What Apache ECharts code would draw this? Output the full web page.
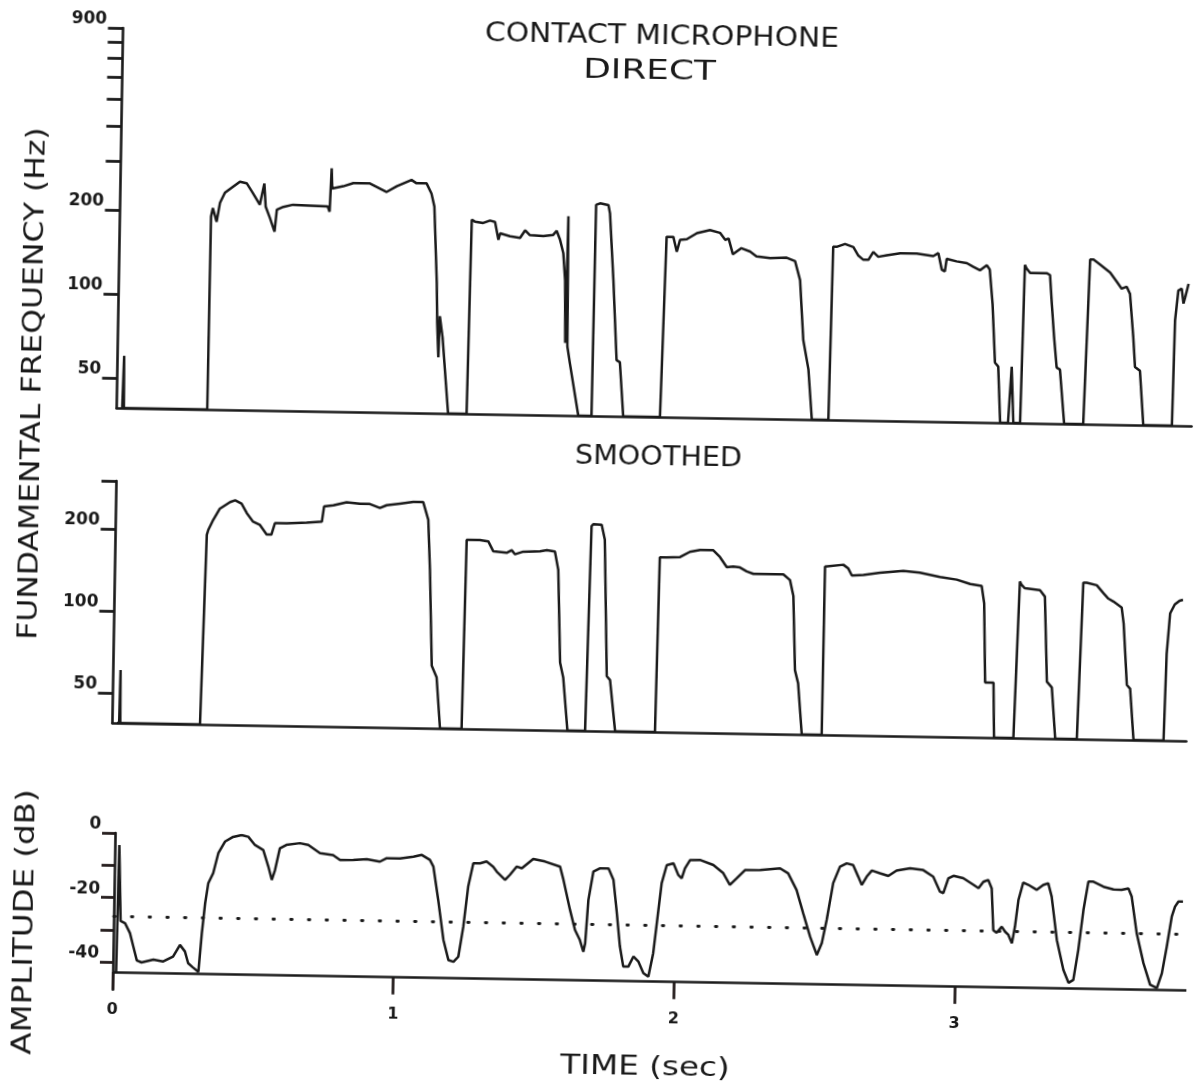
<!DOCTYPE html>
<html>
<head>
<meta charset="utf-8">
<title>Contact microphone – direct / smoothed / amplitude</title>
<script src="https://cdn.jsdelivr.net/npm/echarts@6/dist/echarts.min.js"></script>
<style>
  html, body { margin: 0; padding: 0; background: #fff; overflow: hidden; }
  /* the scanned original sits about one degree off level */
  #chart { width: 1194px; height: 1086px; transform: rotate(0.96deg); }
</style>
</head>
<body>
<div id="chart"></div>
<script>
// ---- data (time in sec) ----
const directTime = [
  0, 0.002, 0.004, 0.006,
  0.303, 0.305, 0.311, 0.325, 0.336, 0.353, 0.381, 0.406, 0.430, 0.452,
  0.478, 0.493, 0.499, 0.515, 0.532, 0.539, 0.562, 0.596, 0.656, 0.720,
  0.727, 0.732, 0.735, 0.774, 0.810, 0.869, 0.929, 0.965, 1.017, 1.035,
  1.071, 1.089, 1.100, 1.113, 1.117, 1.123, 1.126, 1.137, 1.161,
  1.227, 1.234, 1.245, 1.275, 1.299, 1.317, 1.330, 1.336, 1.371, 1.407,
  1.425, 1.442, 1.490, 1.525, 1.537, 1.549, 1.562, 1.570, 1.574, 1.578,
  1.582, 1.592, 1.625,
  1.672, 1.676, 1.690, 1.720, 1.726, 1.742, 1.758, 1.770, 1.785,
  1.916, 1.929, 1.953, 1.966, 1.977, 2.001, 2.037, 2.083, 2.119, 2.138,
  2.150, 2.166, 2.196, 2.227, 2.250, 2.299, 2.358, 2.388, 2.407, 2.422,
  2.442, 2.457,
  2.516, 2.523, 2.535, 2.565, 2.595, 2.613, 2.631, 2.649, 2.666, 2.684,
  2.714, 2.762, 2.821, 2.880, 2.898, 2.911, 2.922, 2.928, 2.963, 3.000,
  3.022, 3.047, 3.071, 3.082, 3.094, 3.106, 3.118, 3.128,
  3.156, 3.166, 3.175,
  3.199, 3.207, 3.213, 3.226, 3.285, 3.297, 3.305, 3.315, 3.326, 3.338, 3.356,
  3.424, 3.439, 3.451, 3.475, 3.511, 3.535, 3.553, 3.571, 3.583, 3.597, 3.605, 3.623, 3.638,
  3.740, 3.745, 3.755, 3.767, 3.774, 3.780, 3.791
];
const directHz = [
  39, 39, 60, 39,
  39, 192, 206, 184, 215, 234, 246, 257, 254, 235,
  213, 254, 210, 191, 171, 205, 210, 214, 213, 212,
  203, 291, 246, 251, 258, 258, 241, 253, 267, 260,
  260, 239, 215, 115, 82, 62, 87, 73, 39,
  39, 194, 191, 189, 193, 191, 165, 174, 170, 168,
  179, 172, 171, 173, 179, 167, 149, 119, 71, 202,
  69, 60, 39,
  39, 223, 226, 223, 208, 120, 62, 61, 39,
  39, 173, 173, 153, 169, 170, 179, 184, 180, 170,
  172, 151, 159, 155, 149, 147, 148, 144, 123, 75,
  59, 39,
  39, 163, 163, 167, 163, 152, 147, 147, 157, 151,
  153, 156, 156, 153, 157, 137, 135, 150, 147, 145,
  141, 137, 143, 138, 104, 64, 62, 39,
  39, 62, 39,
  39, 144, 140, 135, 135, 133, 105, 80, 62, 61, 39,
  39, 152, 152, 146, 137, 127, 120, 122, 115, 81, 63, 61, 39,
  39, 93, 119, 121, 107, 113, 126
];

const smoothTime = [
  0, 0.008, 0.010, 0.012,
  0.296, 0.309, 0.314, 0.331, 0.354, 0.390, 0.408, 0.431, 0.450, 0.473,
  0.498, 0.522, 0.539, 0.551, 0.593, 0.664, 0.718, 0.725, 0.758, 0.805,
  0.853, 0.888, 0.924, 0.948, 0.995, 1.042, 1.078, 1.097, 1.106, 1.118,
  1.136, 1.151,
  1.228, 1.235, 1.282, 1.312, 1.330, 1.378, 1.396, 1.408, 1.437, 1.497,
  1.521, 1.550, 1.563, 1.575, 1.587, 1.605,
  1.668, 1.679, 1.685, 1.715, 1.727, 1.742, 1.754, 1.775,
  1.917, 1.924, 1.948, 1.996, 2.031, 2.067, 2.114, 2.138, 2.163, 2.186,
  2.210, 2.234, 2.258, 2.305, 2.365, 2.389, 2.402, 2.412, 2.424, 2.440,
  2.511, 2.513, 2.519, 2.578, 2.596, 2.609, 2.650, 2.709, 2.792, 2.851,
  2.923, 2.983, 3.031, 3.072, 3.082, 3.090, 3.120, 3.125,
  3.194, 3.208, 3.214, 3.226, 3.280, 3.298, 3.310, 3.328, 3.343,
  3.420, 3.434, 3.446, 3.482, 3.506, 3.524, 3.542, 3.572, 3.580, 3.595, 3.607, 3.622,
  3.729, 3.735, 3.745, 3.761, 3.778, 3.790
];
const smoothHz = [
  39, 39, 61, 39,
  39, 193, 201, 219, 241, 255, 259, 252, 233, 217,
  211, 195, 195, 215, 215, 217, 219, 249, 252, 259,
  256, 256, 248, 254, 258, 262, 262, 226, 148, 66,
  60, 39,
  39, 192, 192, 190, 175, 173, 177, 171, 175, 176,
  178, 176, 151, 69, 61, 39,
  39, 219, 223, 222, 196, 62, 60, 39,
  39, 170, 170, 171, 179, 182, 182, 172, 158, 159,
  158, 153, 150, 150, 150, 143, 125, 67, 60, 39,
  39, 161, 163, 164, 159, 150, 151, 154, 157, 155,
  150, 147, 142, 140, 121, 62, 62, 39,
  39, 146, 142, 138, 136, 129, 63, 60, 39,
  39, 146, 146, 143, 134, 128, 125, 119, 104, 62, 60, 39,
  39, 81, 114, 123, 127, 128
];

const ampTime = [
  0.012, 0.016, 0.025, 0.041, 0.059, 0.072, 0.085, 0.102, 0.144, 0.179,
  0.214, 0.238, 0.256, 0.268, 0.284, 0.305, 0.315, 0.325, 0.335, 0.352,
  0.369, 0.392, 0.421, 0.451, 0.475, 0.499, 0.529, 0.548, 0.561, 0.572,
  0.588, 0.611, 0.659, 0.689, 0.731, 0.778, 0.803, 0.850, 0.898, 0.945,
  0.969, 1.016, 1.064, 1.094, 1.123, 1.136, 1.155, 1.176, 1.195, 1.213,
  1.230, 1.246, 1.261, 1.278, 1.302, 1.325, 1.349, 1.362, 1.392, 1.409,
  1.433, 1.451, 1.491, 1.533, 1.587, 1.600, 1.625, 1.644, 1.662, 1.675,
  1.681, 1.690, 1.706, 1.730, 1.760, 1.778, 1.791, 1.805, 1.818, 1.836,
  1.854, 1.872, 1.890, 1.908, 1.924, 1.940, 1.950, 1.967, 1.991, 2.009,
  2.021, 2.032, 2.050, 2.085, 2.133, 2.169, 2.193, 2.217, 2.246, 2.300,
  2.371, 2.400, 2.431, 2.456, 2.482, 2.507, 2.524, 2.540, 2.561, 2.584,
  2.608, 2.631, 2.650, 2.663, 2.680, 2.698, 2.727, 2.757, 2.786, 2.834,
  2.881, 2.917, 2.942, 2.954, 2.971, 2.989, 3.024, 3.061, 3.079, 3.096,
  3.113, 3.126, 3.134, 3.146, 3.164, 3.176, 3.188, 3.201, 3.211, 3.222,
  3.238, 3.256, 3.286, 3.309, 3.327, 3.340, 3.361, 3.386, 3.405, 3.422,
  3.438, 3.454, 3.470, 3.488, 3.524, 3.560, 3.589, 3.613, 3.625, 3.645,
  3.671, 3.696, 3.720, 3.737, 3.753, 3.769, 3.780, 3.792, 3.808
];
const ampDb = [
  -43, -3.7, -27.2, -27.9, -30.9, -35.1, -39.3, -39.9, -39.0, -39.5,
  -37.9, -34.3, -36.3, -39.9, -41.1, -42.5, -30.6, -21.3, -15.1, -11.9,
  -5.7, -2.1, -0.6, 0, -0.5, -3.0, -4.5, -9.6, -13.7, -10.6,
  -3.9, -2.8, -2.2, -2.7, -5.2, -5.7, -7.2, -7.1, -6.8, -7.5,
  -6.4, -6.4, -5.8, -5.2, -6.7, -8.8, -19.0, -31.4, -37.6, -38.1,
  -36.5, -27.2, -14.8, -7.5, -7.5, -6.9, -8.5, -10.0, -12.5, -10.9,
  -8.3, -8.8, -5.9, -6.6, -8.1, -12.2, -21.4, -27.6, -30.7, -34.3,
  -31.7, -18.3, -9.5, -8.4, -8.4, -11.9, -21.3, -32.5, -38.7, -38.7,
  -35.5, -37.1, -40.6, -41.7, -34.4, -21.0, -12.7, -7.1, -6.5, -10.1,
  -11.1, -8.0, -5.4, -5.3, -6.8, -9.3, -12.9, -10.8, -8.2, -8.1,
  -7.5, -9.0, -14.1, -21.3, -28.5, -34.1, -30.4, -23.2, -11.8, -6.7,
  -5.6, -6.1, -9.7, -12.2, -9.6, -7.7, -8.5, -9.3, -7.6, -6.8,
  -7.3, -9.3, -13.9, -14.3, -9.7, -8.9, -9.6, -11.6, -12.6, -10.6,
  -10.0, -12.6, -25.5, -26.3, -24.4, -25.9, -26.9, -29.5, -24.3, -16.0,
  -10.6, -11.3, -12.8, -11.3, -10.7, -14.8, -28.2, -37.4, -41.4, -40.5,
  -31.2, -18.8, -10.0, -10.0, -11.5, -12.3, -12.4, -11.9, -14.4, -25.7,
  -35.0, -41.6, -42.6, -38.0, -29.7, -20.4, -17.3, -15.7, -15.7
];

// axis ticks / labels
const directTicks = [50, 100, 200, 300, 400, 500, 600, 700, 800, 900];
const directLabels = [50, 100, 200, 900];
const smoothTicks = [50, 100, 200, 300];
const smoothLabels = [50, 100, 200];
const ampTicks = [0, -10, -20, -30, -40];
const ampLabels = [0, -20, -40];
const timeTicks = [0, 1, 2, 3];
const thresholdDb = -25.7;
const floorDb = -43;

// ---- chart ----
const INK = '#1a1a1a';
const TICK_INK = '#241c1c'; // amplitude panel ticks would not show in plain INK
const FONT = 'DejaVu Sans';
const lg = v => Math.log10(v);
const zip = (ts, vs) => ts.map((t, i) => [t, vs[i]]);

const lineAxis = () => ({ onZero: false, lineStyle: { color: INK, width: 2.6 } });
const tickLine = color => ({ color: color || INK, width: 2.8 });
const tickFont = () => ({ color: INK, fontFamily: FONT, fontSize: 17, fontWeight: 'bold' });
const off = () => ({ show: false });

function hiddenX(gridIndex, min) {
  return {
    gridIndex, type: 'value', min, max: 3.81,
    axisLine: lineAxis(), axisTick: off(), axisLabel: off(), splitLine: off()
  };
}

// axis that carries the data: line only
function dataY(gridIndex, type, min, max) {
  return {
    gridIndex, type, position: 'left', min, max,
    axisLine: lineAxis(), axisTick: off(), axisLabel: off(), splitLine: off()
  };
}

// companion axis on the same side: ticks and labels only
function tickY(gridIndex, min, max, ticks, labels, len, fmt, color) {
  return {
    gridIndex, type: 'value', position: 'left', min, max,
    axisLine: { show: false, onZero: false },
    axisTick: { show: true, length: len, customValues: ticks, lineStyle: tickLine(color) },
    axisLabel: Object.assign({
      show: true, customValues: labels, margin: len + 1, verticalAlign: 'bottom', formatter: fmt
    }, tickFont()),
    splitLine: off()
  };
}

const fromLog = v => String(Math.round(Math.pow(10, v)));
const plain = v => String(v);

const series = (x, y, data) => ({
  type: 'line', xAxisIndex: x, yAxisIndex: y, data,
  showSymbol: false, silent: true, animation: false,
  lineStyle: { color: INK, width: 2.5 }
});

function label(text, x, y, scaleX, size, rotation) {
  return {
    type: 'text', x, y, scaleX, rotation: rotation || 0, silent: true,
    style: {
      text, fill: INK, fontFamily: FONT, fontSize: size,
      align: 'center', verticalAlign: 'middle'
    }
  };
}

const chart = echarts.init(document.getElementById('chart'));

const ampSeries = series(2, 4, zip(ampTime, ampDb));
ampSeries.markLine = {
  silent: true, symbol: 'none', animation: false, label: off(),
  data: [
    { yAxis: floorDb, lineStyle: { type: 'solid', width: 2.6, color: INK } },
    { yAxis: thresholdDb, lineStyle: { type: [1.5, 16.2], width: 2.8, color: INK, cap: 'round' } }
  ]
};

chart.setOption({
  backgroundColor: '#ffffff',
  animation: false,
  grid: [
    { left: 114.4, right: 4.5, top: 36, height: 380, outerBoundsMode: 'none' },
    { left: 115.5, right: 4.5, top: 489, height: 242, outerBoundsMode: 'none' },
    // time axis runs to 4 s so the ticks stay whole seconds; the last second falls past the page edge
    { left: 120, right: -48.8, top: 841, height: 156.8, outerBoundsMode: 'none' }
  ],
  xAxis: [
    hiddenX(0, -0.02),
    hiddenX(1, -0.016),
    {
      gridIndex: 2, type: 'value', position: 'bottom', min: 0, max: 4, interval: 1,
      axisLine: { show: false, onZero: false },
      axisTick: { show: true, inside: true, length: 17.8, lineStyle: tickLine(TICK_INK) },
      axisLabel: {
        show: true, margin: 12, color: INK, fontFamily: FONT, fontSize: 16, fontWeight: 'bold',
        formatter: v => (timeTicks.indexOf(v) >= 0 ? String(v) : '')
      },
      splitLine: off()
    }
  ],
  yAxis: [
    dataY(0, 'log', 39, 900),
    tickY(0, lg(39), lg(900), directTicks.map(lg), directLabels.map(lg), 15, fromLog),
    dataY(1, 'log', 39, 300),
    tickY(1, lg(39), lg(300), smoothTicks.map(lg), smoothLabels.map(lg), 15, fromLog),
    dataY(2, 'value', -48.5, 0),
    tickY(2, -48.5, 0, ampTicks, ampLabels, 13, plain, TICK_INK)
  ],
  series: [
    series(0, 0, zip(directTime, directHz)),
    series(1, 2, zip(smoothTime, smoothHz)),
    ampSeries
  ],
  graphic: [
    label('CONTACT MICROPHONE', 653.5, 36, 1.10, 27),
    label('DIRECT', 641.6, 71, 1.33, 27),
    label('SMOOTHED', 657, 456.5, 1.06, 27),
    label('TIME (sec)', 653.8, 1066.8, 1.21, 27),
    label('FUNDAMENTAL FREQUENCY (Hz)', 31.3, 393, 1.21, 26, Math.PI / 2),
    label('AMPLITUDE (dB)', 32.4, 931.6, 1.25, 26, Math.PI / 2)
  ]
});

window.addEventListener('resize', () => chart.resize());
</script>
</body>
</html>
